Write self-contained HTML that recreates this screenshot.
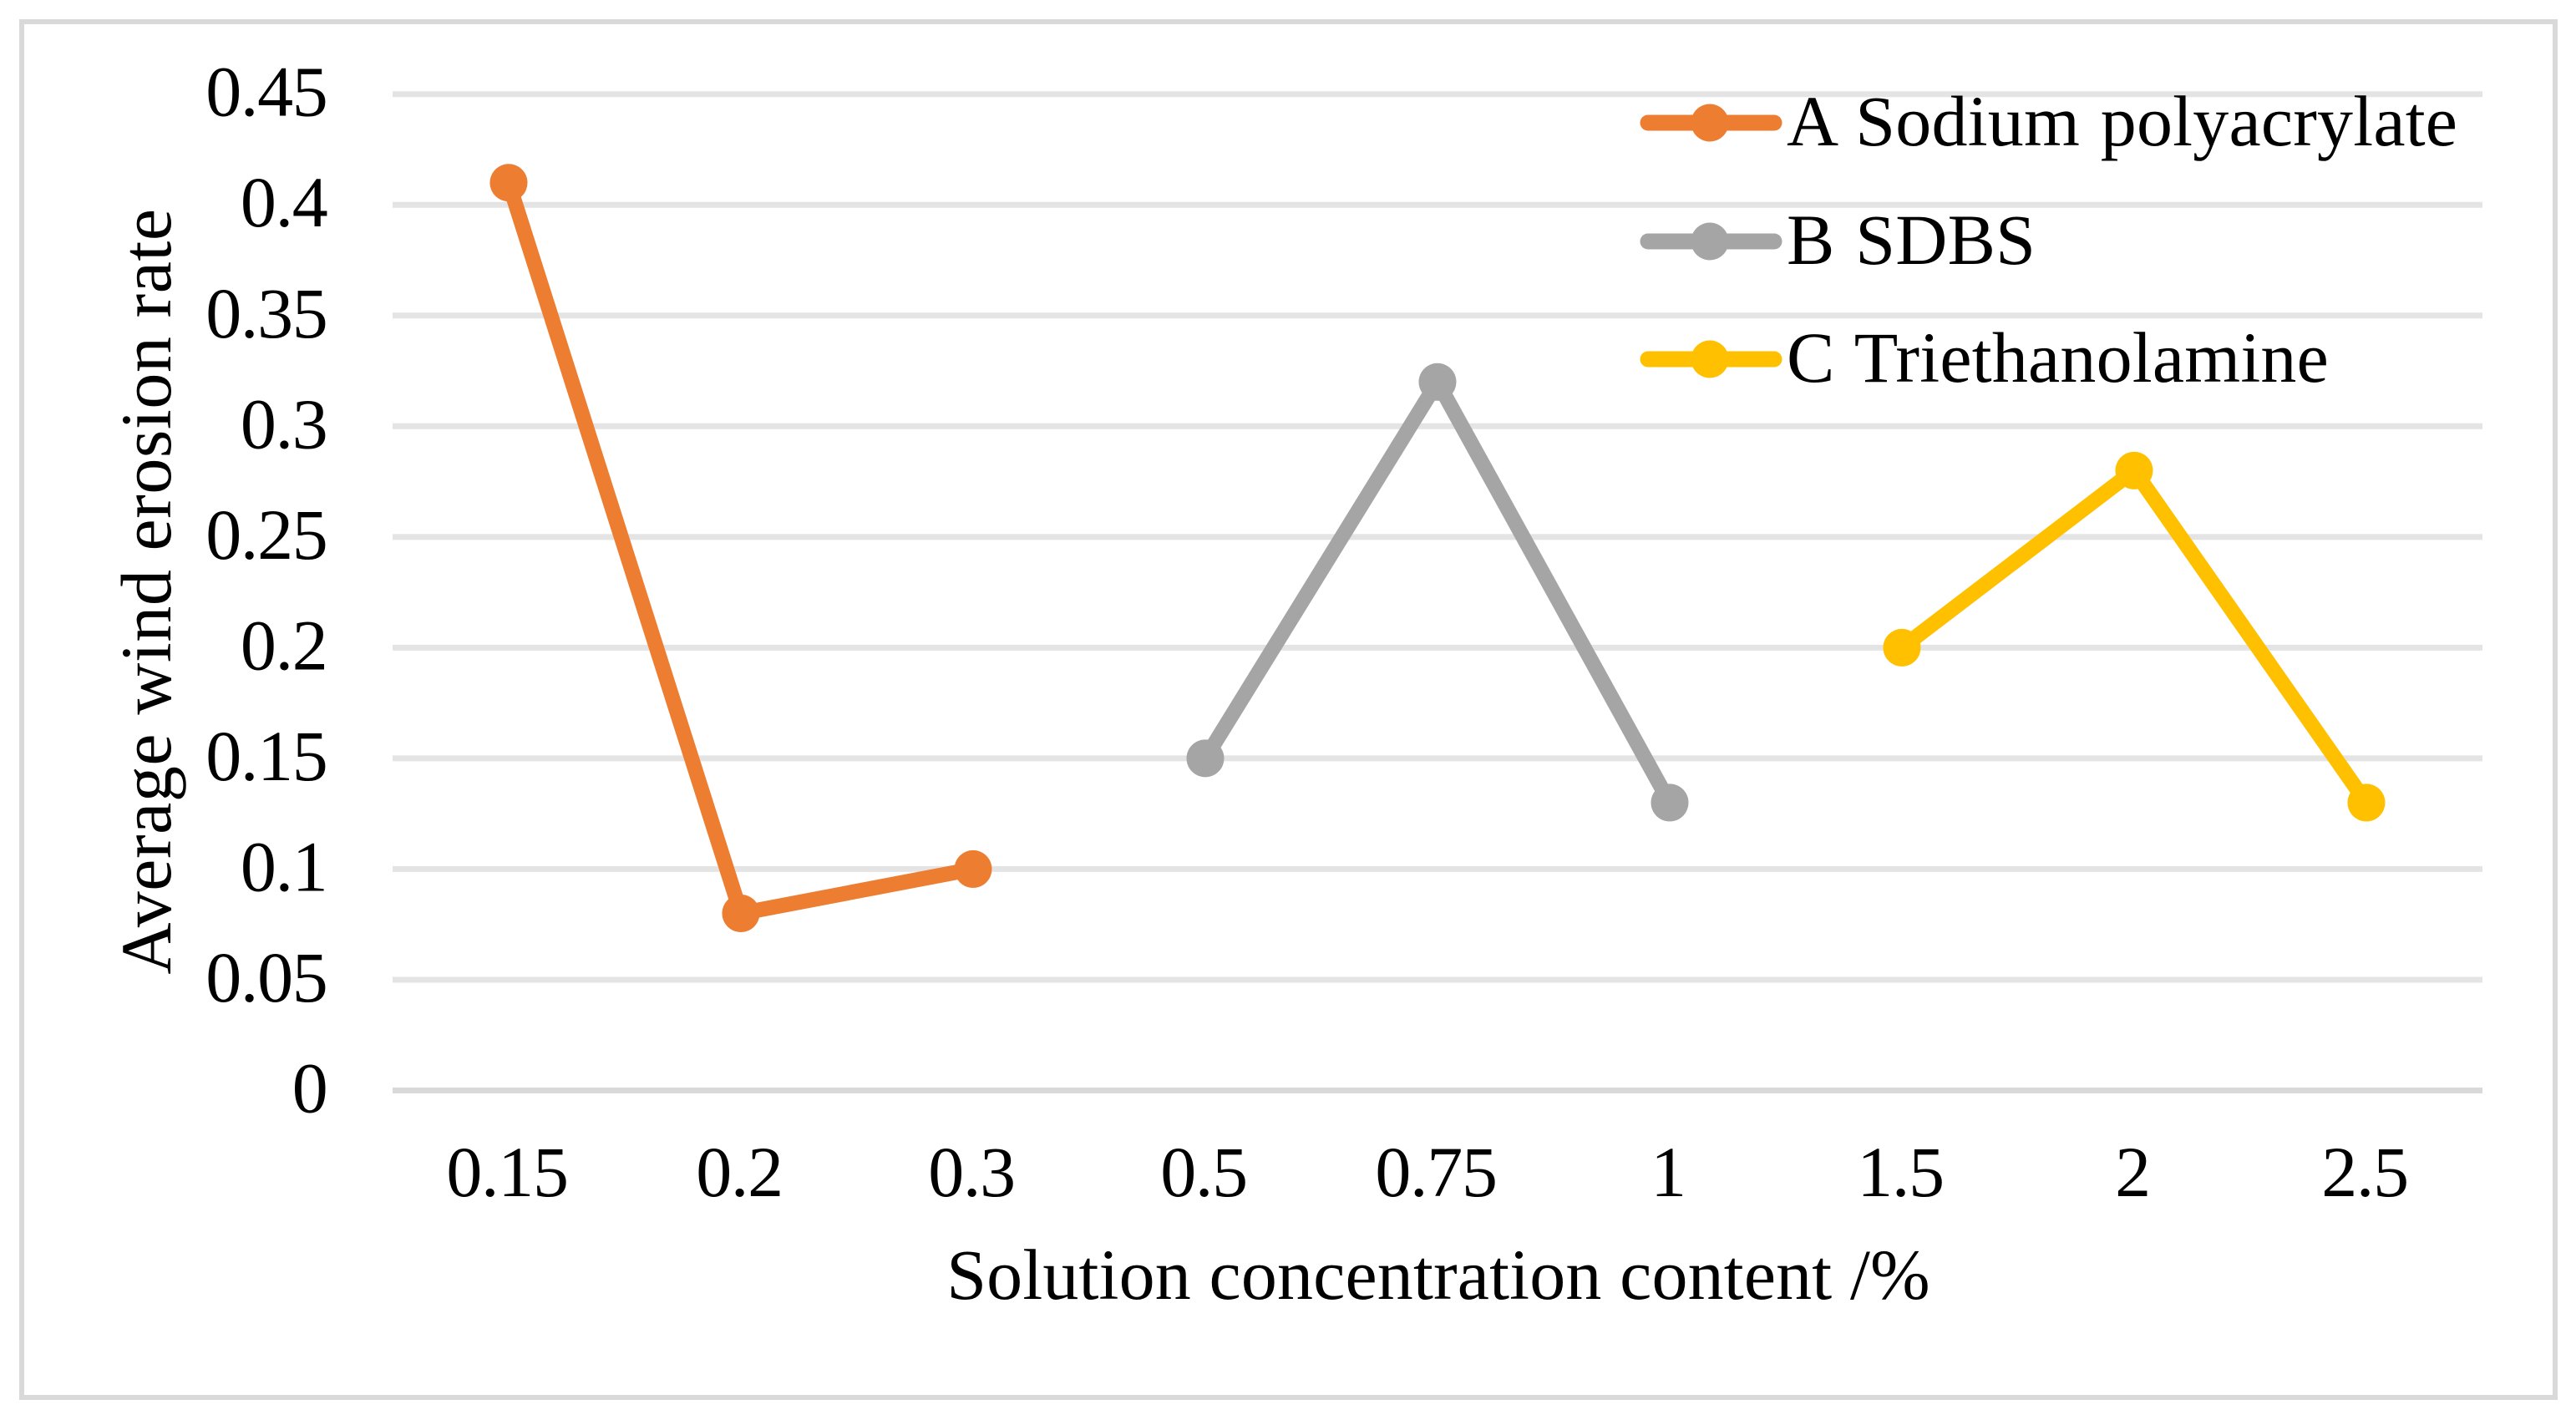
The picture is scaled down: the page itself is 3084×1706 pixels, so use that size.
<!DOCTYPE html>
<html lang="en">
<head>
<meta charset="utf-8">
<title>Average wind erosion rate chart</title>
<style>
html,body{margin:0;padding:0;background:#fff;}
svg{display:block;}
text{font-family:"Liberation Serif","Times New Roman",serif;font-size:86px;fill:#000;}
.tick{letter-spacing:-1.3px;}
.legend-text{letter-spacing:0.2px;word-spacing:3px;}
.y-title{letter-spacing:0.55px;}
.x-title{letter-spacing:0.15px;}
</style>
</head>
<body>
<svg id="chart" xmlns="http://www.w3.org/2000/svg" width="3084" height="1706" viewBox="0 0 3084 1706">
  <rect x="0" y="0" width="3084" height="1706" fill="#ffffff"/>
  <rect x="26" y="26" width="3033" height="1647" fill="none" stroke="#d9d9d9" stroke-width="6"/>
  <g id="grid"></g>
  <g id="y-ticks"></g>
  <g id="x-ticks"></g>
  <g id="series"></g>
  <text class="y-title" transform="translate(204 708) rotate(-90)" text-anchor="middle">Average wind erosion rate</text>
  <text class="x-title" x="1722" y="1555" text-anchor="middle">Solution concentration content /%</text>
  <g>
    <g>
      <line x1="1973" y1="147" x2="2124" y2="147" stroke="#ED7D31" stroke-width="19" stroke-linecap="round"/>
      <circle cx="2047" cy="147" r="22.5" fill="#ED7D31"/>
      <text class="legend-text" x="2139" y="174">A Sodium polyacrylate</text>
    </g>
    <g>
      <line x1="1973" y1="289" x2="2124" y2="289" stroke="#A5A5A5" stroke-width="19" stroke-linecap="round"/>
      <circle cx="2047" cy="289" r="22.5" fill="#A5A5A5"/>
      <text class="legend-text" x="2139" y="316">B SDBS</text>
    </g>
    <g>
      <line x1="1973" y1="430" x2="2124" y2="430" stroke="#FFC000" stroke-width="19" stroke-linecap="round"/>
      <circle cx="2047" cy="430" r="22.5" fill="#FFC000"/>
      <text class="legend-text" x="2139" y="457">C Triethanolamine</text>
    </g>
  </g>
</svg>
<script>
const categories = ["0.15", "0.2", "0.3", "0.5", "0.75", "1", "1.5", "2", "2.5"];
const yTickValues = [0, 0.05, 0.1, 0.15, 0.2, 0.25, 0.3, 0.35, 0.4, 0.45];
const yTickLabels = ["0", "0.05", "0.1", "0.15", "0.2", "0.25", "0.3", "0.35", "0.4", "0.45"];
const seriesAValues = [0.41, 0.08, 0.1, null, null, null, null, null, null];
const seriesBValues = [null, null, null, 0.15, 0.32, 0.13, null, null, null];
const seriesCValues = [null, null, null, null, null, null, 0.2, 0.28, 0.13];

const NS = 'http://www.w3.org/2000/svg';
const plotLeft = 470, plotRight = 2972, plotBottom = 1305.5, plotTop = 112.7, yMax = 0.45;

function xScale(i) {
  return plotLeft + (i + 0.5) * (plotRight - plotLeft) / categories.length;
}
function yScale(v) {
  return plotBottom - (v / yMax) * (plotBottom - plotTop);
}
function make(tag, attrs, parent) {
  const el = document.createElementNS(NS, tag);
  for (const k in attrs) el.setAttribute(k, attrs[k]);
  parent.appendChild(el);
  return el;
}

const gridGroup = document.getElementById('grid');
const yTickGroup = document.getElementById('y-ticks');
const xTickGroup = document.getElementById('x-ticks');
const seriesGroup = document.getElementById('series');

yTickValues.forEach(function (v, i) {
  const y = yScale(v);
  const line = make('line', {
    x1: plotLeft, x2: plotRight, y1: y, y2: y,
    stroke: v === 0 ? '#d9d9d9' : '#e4e4e4', 'stroke-width': 7
  }, gridGroup);
  
  

  const label = make('text', { x: 391.5, y: y + 26, 'text-anchor': 'end', 'class': 'tick' }, yTickGroup);
  label.textContent = yTickLabels[i];
  
  
});

categories.forEach(function (c, i) {
  const label = make('text', { x: xScale(i) - 2, y: 1432, 'text-anchor': 'middle', 'class': 'tick' }, xTickGroup);
  label.textContent = c;
  
  
});

function drawSeries(values, color, key) {
  const pts = [];
  values.forEach(function (v, i) {
    if (v !== null) pts.push([xScale(i), yScale(v)]);
  });
  const group = make('g', {}, seriesGroup);
  
  

  const line = make('polyline', {
    points: pts.map(function (p) { return p[0] + ',' + p[1]; }).join(' '),
    fill: 'none', stroke: color, 'stroke-width': 18,
    'stroke-linecap': 'round', 'stroke-linejoin': 'round'
  }, group);
  
  

  pts.forEach(function (p) {
    const dot = make('circle', { cx: p[0], cy: p[1], r: 22.5, fill: color }, group);
    
    
  });
}

drawSeries(seriesAValues, '#ED7D31', 'a');
drawSeries(seriesBValues, '#A5A5A5', 'b');
drawSeries(seriesCValues, '#FFC000', 'c');
</script>
</body>
</html>
